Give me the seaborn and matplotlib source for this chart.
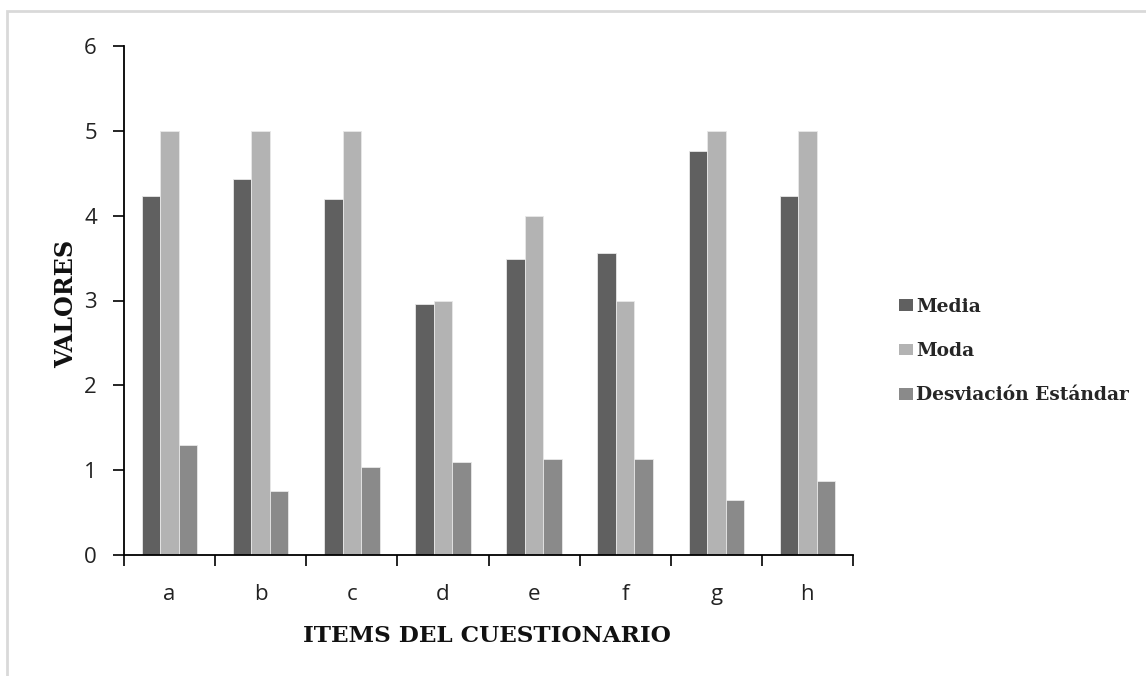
import matplotlib
matplotlib.use("Agg")
import matplotlib.pyplot as plt
import seaborn as sns
import pandas as pd
from matplotlib.patches import Rectangle, Patch
from matplotlib.ticker import FixedLocator

items = ["a", "b", "c", "d", "e", "f", "g", "h"]
media = [4.23, 4.43, 4.20, 2.96, 3.49, 3.56, 4.76, 4.23]
moda = [5, 5, 5, 3, 4, 3, 5, 5]
desviacion = [1.30, 0.75, 1.04, 1.10, 1.13, 1.13, 0.65, 0.87]
series_names = ["Media", "Moda", "Desviación Estándar"]
colors = ["#606060", "#b3b3b3", "#8a8a8a"]

df = pd.DataFrame({
    "item": items * 3,
    "valor": media + moda + desviacion,
    "serie": [series_names[0]] * len(items) + [series_names[1]] * len(items) + [series_names[2]] * len(items),
})

sns.set_theme(style="white")
plt.rcParams["font.family"] = ["Open Sans", "DejaVu Sans"]

W, H = 1146, 676
fig = plt.figure(figsize=(W / 100, H / 100), dpi=100)
ax_l, ax_r, ax_t, ax_b = 124, 853, 46, 555
ax = fig.add_axes([ax_l / W, 1 - ax_b / H, (ax_r - ax_l) / W, (ax_b - ax_t) / H])

sns.barplot(data=df, x="item", y="valor", hue="serie", hue_order=series_names,
            palette=colors, width=0.61, ax=ax, legend=False,
            edgecolor="#e8e8e8", linewidth=0.6, saturation=1)

ax.set_ylim(0, 6)
ax.set_xlim(-0.5, len(items) - 0.5)
ax.set_yticks(range(0, 7))
ax.tick_params(axis="y", which="major", direction="out", length=8, width=1.2,
               color="black", labelsize=16, pad=11.5, left=True)
ax.tick_params(axis="x", which="major", length=0, labelsize=16, pad=21)
ax.xaxis.set_minor_locator(FixedLocator([i - 0.5 for i in range(len(items) + 1)]))
ax.tick_params(axis="x", which="minor", direction="out", length=8, width=1.2,
               color="black", bottom=True)
for lbl in ax.get_xticklabels() + ax.get_yticklabels():
    lbl.set_color("#222222")

for s in ["top", "right"]:
    ax.spines[s].set_visible(False)
for s in ["left", "bottom"]:
    ax.spines[s].set_color("black")
    ax.spines[s].set_linewidth(1.3)

serif = ["DejaVu Serif"]
ax.set_xlabel("ITEMS DEL CUESTIONARIO", fontsize=15, fontweight="bold",
              family=serif, color="#111111")
ax.set_ylabel("VALORES", fontsize=15, fontweight="bold", family=serif,
              color="#111111")

fig.canvas.draw()
renderer = fig.canvas.get_renderer()


def fit(text, target, vertical=False):
    for _ in range(3):
        bb = text.get_window_extent(renderer)
        size = bb.height if vertical else bb.width
        text.set_fontsize(text.get_fontsize() * target / size)


xl = ax.xaxis.label
yl = ax.yaxis.label
fit(xl, 368)
fit(yl, 128, vertical=True)
xl.set_va("baseline")
xl.set_ha("center")
ax.xaxis.set_label_coords((487 - ax_l) / (ax_r - ax_l), -(642 - ax_b) / (ax_b - ax_t))
yl.set_rotation_mode("anchor")
yl.set_ha("center")
yl.set_va("baseline")
ax.yaxis.set_label_coords(-(ax_l - 73) / (ax_r - ax_l), (ax_b - 304) / (ax_b - ax_t))

# legend: fit font so the longest label is ~212 px wide
probe = fig.text(0, 0, series_names[2], family=serif, weight="bold", fontsize=14)
fit(probe, 212)
fs = probe.get_fontsize()
probe.remove()
fs_px = fs * 100 / 72

handles = [Patch(facecolor=c, edgecolor="none", label=n) for c, n in zip(colors, series_names)]


def make_legend(ls, cy):
    return fig.legend(handles=handles, loc="center left",
                      bbox_to_anchor=(899 / W, 1 - cy / H),
                      frameon=False, borderpad=0, borderaxespad=0,
                      handlelength=14 / fs_px, handleheight=11 / fs_px,
                      handletextpad=3 / fs_px, labelspacing=ls,
                      prop={"family": serif, "weight": "bold", "size": fs})


ls, cy = 1.1, 351
leg = make_legend(ls, cy)
for _ in range(3):
    fig.canvas.draw()
    ts = [t.get_window_extent(renderer) for t in leg.get_texts()]
    pitch = ((ts[0].y0 + ts[0].y1) - (ts[2].y0 + ts[2].y1)) / 4
    mid = H - (ts[1].y0 + ts[1].y1) / 2
    ls += (44.5 - pitch) / fs_px
    cy += 351 - mid
    leg.remove()
    leg = make_legend(ls, cy)

fig.patches.append(Rectangle((7 / W, -0.05), 1.1, 1 - 11 / H + 0.05,
                             transform=fig.transFigure, fill=False,
                             edgecolor="#d9d9d9", linewidth=2, zorder=0))

fig.savefig("out.png", dpi=100)
